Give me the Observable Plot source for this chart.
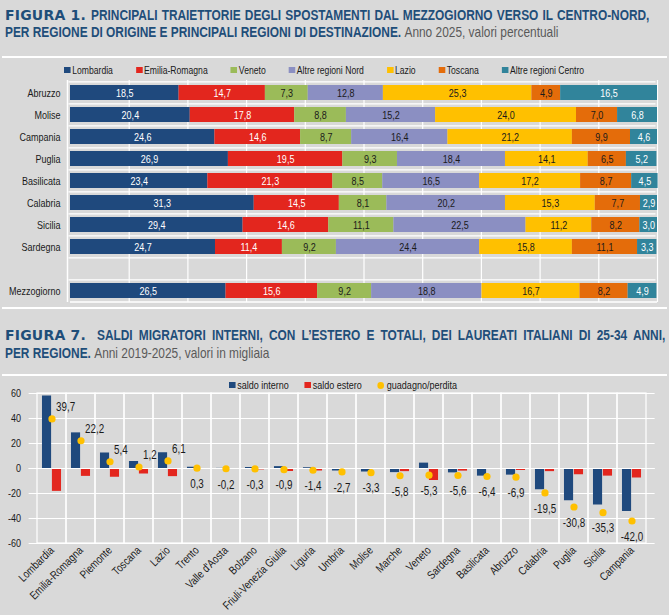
<!DOCTYPE html>
<html><head><meta charset="utf-8">
<script src="https://cdn.jsdelivr.net/npm/d3@7"></script>
<script src="https://cdn.jsdelivr.net/npm/@observablehq/plot@0.6"></script>
<style>
body{margin:0;background:#d9d9d9;}
#page{position:relative;width:669px;height:615px;background:#d9d9d9;overflow:hidden;font-family:"Liberation Sans",Arial,sans-serif;}
.abs{position:absolute;}
.narrow{transform:scaleX(0.82);transform-origin:0 50%;}
.tl{color:#1f4e79;font-weight:bold;font-size:14.5px;line-height:18px;white-space:nowrap;}
.just{text-align:justify;text-align-last:justify;}
.fig{font-family:"DejaVu Sans",sans-serif;font-weight:bold;font-size:14px;color:#1f4e79;line-height:18px;letter-spacing:0.2px;}
.sub{font-weight:normal;color:#595959;}
.rule{left:2px;width:665px;height:2px;background:#fff;}
.legend{display:flex;align-items:center;font-size:10.5px;color:#1a1a1a;white-space:nowrap;line-height:14px;z-index:2;}
.item{display:flex;align-items:center;}
.sw{display:inline-block;width:8px;height:6.5px;margin-right:2px;}
.dotsw{display:inline-block;width:8.5px;height:7px;border-radius:50%;margin-right:3px;}
svg{overflow:visible;}
</style></head><body>
<div id="page">
  <div class="abs fig" style="top:6px;left:5px;">FIGURA 1.</div>
  <div class="abs tl just narrow" style="top:6px;left:90.5px;width:681px;">PRINCIPALI TRAIETTORIE DEGLI SPOSTAMENTI DAL MEZZOGIORNO VERSO IL CENTRO-NORD,</div>
  <div class="abs tl narrow" style="top:22.5px;left:5px;">PER REGIONE DI ORIGINE E PRINCIPALI REGIONI DI DESTINAZIONE. <span class="sub">Anno 2025, valori percentuali</span></div>
  <div class="abs rule" style="top:56px;"></div>
  <div id="legend1" class="abs legend narrow" style="top:63px;left:64px;gap:28px;"></div>
  <div id="chart1" class="abs" style="top:78px;left:0;"></div>
  <div class="abs rule" style="top:307px;"></div>
  <div class="abs fig" style="top:326px;left:5px;">FIGURA 7.</div>
  <div class="abs tl just narrow" style="top:326px;left:97px;width:693px;">SALDI MIGRATORI INTERNI, CON L’ESTERO E TOTALI, DEI LAUREATI ITALIANI DI 25-34 ANNI,</div>
  <div class="abs tl narrow" style="top:344px;left:5px;">PER REGIONE. <span class="sub">Anni 2019-2025, valori in migliaia</span></div>
  <div class="abs rule" style="top:374px;"></div>
  <div id="chart7" class="abs" style="top:383px;left:0;"></div>
  <div id="legend7" class="abs legend narrow" style="top:378px;left:229px;gap:19px;font-size:11px;"></div>
</div>
<script>
// ---------- FIGURA 1 data ----------
const origins = ["Abruzzo","Molise","Campania","Puglia","Basilicata","Calabria","Sicilia","Sardegna","Mezzogiorno"];
const destinations = ["Lombardia","Emilia-Romagna","Veneto","Altre regioni Nord","Lazio","Toscana","Altre regioni Centro"];
const lombardia     = [18.5,20.4,24.6,26.9,23.4,31.3,29.4,24.7,26.5];
const emiliaRomagna = [14.7,17.8,14.6,19.5,21.3,14.5,14.6,11.4,15.6];
const veneto        = [7.3,8.8,8.7,9.3,8.5,8.1,11.1,9.2,9.2];
const altreNord     = [12.8,15.2,16.4,18.4,16.5,20.2,22.5,24.4,18.8];
const lazio         = [25.3,24.0,21.2,14.1,17.2,15.3,11.2,15.8,16.7];
const toscana       = [4.9,7.0,9.9,6.5,8.7,7.7,8.2,11.1,8.2];
const altreCentro   = [16.5,6.8,4.6,5.2,4.5,2.9,3.0,3.3,4.9];

// ---------- FIGURA 7 data ----------
const regions7 = ["Lombardia","Emilia-Romagna","Piemonte","Toscana","Lazio","Trento","Valle d'Aosta","Bolzano","Friuli-Venezia Giulia","Liguria","Umbria","Molise","Marche","Veneto","Sardegna","Basilicata","Abruzzo","Calabria","Puglia","Sicilia","Campania"];
const saldoInterno = [58.0,28.5,12.4,5.6,12.6,1.0,0.1,0.8,1.5,0.6,-2.0,-2.8,-3.3,4.3,-3.5,-6.1,-5.3,-17.0,-25.8,-29.2,-34.4];
const saldoEstero  = [-18.3,-6.3,-7.0,-4.4,-6.5,-0.7,-0.3,-1.1,-2.4,-2.0,-0.7,-0.5,-2.5,-9.6,-2.1,-0.3,-1.6,-2.5,-5.0,-6.1,-7.6];
const guadagnoPerdita = [39.7,22.2,5.4,1.2,6.1,0.3,-0.2,-0.3,-0.9,-1.4,-2.7,-3.3,-5.8,-5.3,-5.6,-6.4,-6.9,-19.5,-30.8,-35.3,-42.0];
const yTicks7 = [-60,-40,-20,0,20,40,60];
const xTicks1 = [10,20,30,40,50,60,70,80,90,100];

// ---------- styles ----------
const FONT = '"Liberation Sans",Arial,sans-serif';
const NARROW = 0.82;
const destColors = ["#1f497d","#e3261e","#9bbb59","#8b8fc2","#ffc000","#e46c0a","#31849b"];
const darkInk = new Set(["Veneto","Altre regioni Nord","Lazio","Toscana"]);
const BLUE = "#1f497d", RED = "#e3261e", GOLD = "#ffc000";
const fmt = v => v.toFixed(1).replace(".", ",");

// horizontally condense every svg text about its own anchor (Arial Narrow look)
function condense(svg, k) {
  svg.querySelectorAll("text").forEach(t => {
    const tr = t.getAttribute("transform") || "";
    const x = parseFloat(t.getAttribute("x")) || 0;
    t.setAttribute("transform", `${tr} translate(${x},0) scale(${k},1) translate(${-x},0)`);
  });
}

// ---------- FIGURA 1 ----------
const series1 = [lombardia, emiliaRomagna, veneto, altreNord, lazio, toscana, altreCentro];
const rows1 = destinations.flatMap((dest, j) => origins.map((origin, i) => ({origin, dest, value: series1[j][i]})));
const yDomain1 = [...origins.slice(0, 8), " ", origins[8]];
const H1 = 228, MT1 = 2, MB1 = 4;
const step1 = (H1 - MT1 - MB1) / yDomain1.length;

const leg1 = document.getElementById("legend1");
destinations.forEach((d, j) => {
  const it = document.createElement("span"); it.className = "item";
  it.innerHTML = `<span class="sw" style="background:${destColors[j]}"></span>${d}`;
  leg1.appendChild(it);
});

const chart1 = Plot.plot({
  width: 669, height: H1, marginLeft: 70, marginRight: 12, marginTop: MT1, marginBottom: MB1,
  style: {background: "transparent", fontFamily: FONT, fontSize: "11px", color: "#1a1a1a"},
  x: {domain: [0, 100], axis: null},
  y: {domain: yDomain1, paddingInner: 0.32, paddingOuter: 0.16, label: null, tickSize: 0, tickPadding: 10},
  color: {domain: destinations, range: destColors},
  marks: [
    Plot.ruleX(xTicks1, {stroke: "white", strokeWidth: 1.2}),
    Plot.ruleY(yDomain1, {y: d => d, x1: 0, x2: 100, dy: -step1 / 2, dx: -1.5, stroke: "white", strokeWidth: 1.2}),
    Plot.ruleY([yDomain1[yDomain1.length - 1]], {y: d => d, x1: 0, x2: 100, dy: step1 / 2, stroke: "white", strokeWidth: 1.5}),
    Plot.ruleX([0], {stroke: "white", strokeWidth: 1.5, dx: -3}),
    Plot.barX(rows1, Plot.stackX({x: "value", y: "origin", fill: "dest", order: destinations})),
    Plot.text(rows1, Plot.stackX({x: "value", y: "origin", z: "dest", order: destinations,
      text: d => darkInk.has(d.dest) ? null : fmt(d.value), fill: "white", fontSize: 11})),
    Plot.text(rows1, Plot.stackX({x: "value", y: "origin", z: "dest", order: destinations,
      text: d => darkInk.has(d.dest) ? fmt(d.value) : null, fill: "#1a1a1a", fontSize: 11}))
  ]
});
condense(chart1, NARROW);
document.getElementById("chart1").appendChild(chart1);

// ---------- FIGURA 7 ----------
const rows7 = regions7.map((region, i) => ({region, interno: saldoInterno[i], estero: saldoEstero[i], totale: guadagnoPerdita[i]}));
const W7 = 669, ML7 = 28.6, MR7 = 14.4;
const step7 = (W7 - ML7 - MR7) / regions7.length;
const barW = step7 / 3;

const leg7 = document.getElementById("legend7");
[["saldo interno", `<span class="sw" style="background:${BLUE}"></span>`],
 ["saldo estero", `<span class="sw" style="background:${RED}"></span>`],
 ["guadagno/perdita", `<span class="dotsw" style="background:${GOLD}"></span>`]].forEach(([t, s]) => {
  const it = document.createElement("span"); it.className = "item";
  it.innerHTML = s + t; leg7.appendChild(it);
});

const chart7 = Plot.plot({
  width: W7, height: 232, marginLeft: ML7, marginRight: MR7, marginTop: 10, marginBottom: 72,
  style: {background: "transparent", fontFamily: FONT, fontSize: "11px", color: "#1a1a1a"},
  x: {domain: regions7, padding: 0, label: null, tickSize: 0, tickPadding: 5, tickRotate: -45},
  y: {domain: [-60, 60], ticks: yTicks7, tickFormat: d => String(d), label: null, tickSize: 0, tickPadding: 8},
  marks: [
    Plot.ruleY(yTicks7, {stroke: "white", strokeWidth: 1.2}),
    Plot.barY(regions7, {x: d => d, y1: -60, y2: 60, fill: "none", stroke: "white", strokeWidth: 1.2}),
    Plot.barY(rows7, {x: "region", y: "interno", fill: BLUE, insetLeft: step7 / 2 - barW, insetRight: step7 / 2}),
    Plot.barY(rows7, {x: "region", y: "estero", fill: RED, insetLeft: step7 / 2, insetRight: step7 / 2 - barW}),
    Plot.ruleY([0], {stroke: "white", strokeWidth: 1.2}),
    Plot.dot(rows7, {x: "region", y: "totale", r: 3.6, fill: GOLD}),
    Plot.text(rows7, {filter: d => d.totale >= 1, x: "region", y: "totale", text: d => fmt(d.totale),
      textAnchor: "start", dx: 4, dy: -12, fontSize: 12, fill: "#1a1a1a"}),
    Plot.text(rows7, {filter: d => d.totale < 1, x: "region", y: "totale", text: d => fmt(d.totale),
      dy: 16, fontSize: 12, fill: "#1a1a1a"})
  ]
});
// slightly larger rotated region labels, as in the reference
chart7.querySelectorAll('[aria-label="x-axis tick label"] text, [aria-label="x-axis"] text')
  .forEach(t => t.setAttribute("font-size", "11.5"));
condense(chart7, NARROW);
document.getElementById("chart7").appendChild(chart7);
</script>
</body></html>
